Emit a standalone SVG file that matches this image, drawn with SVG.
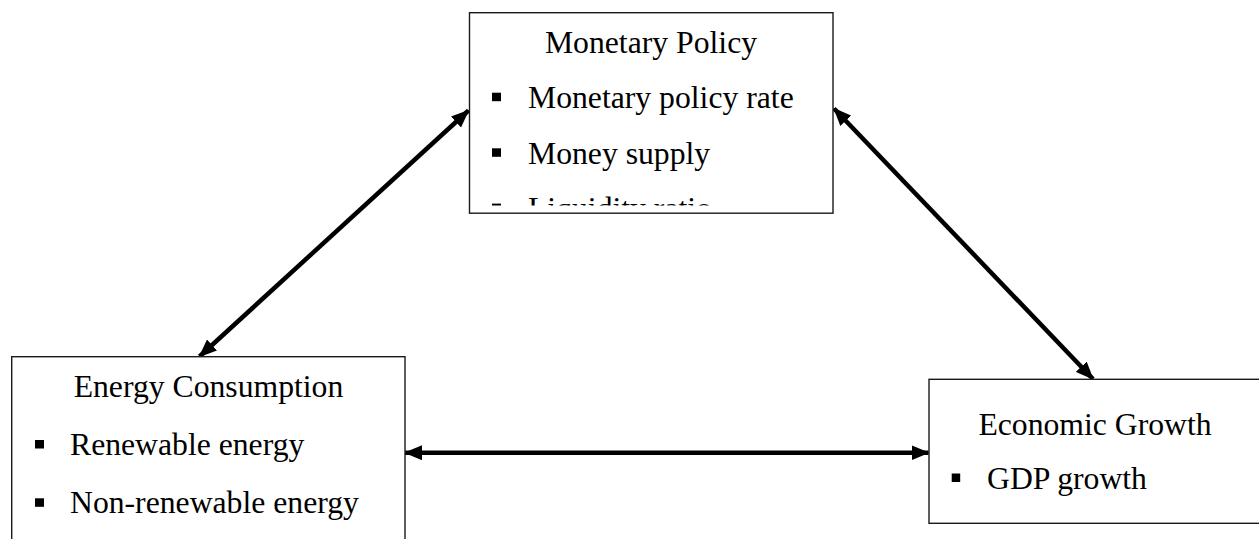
<svg xmlns="http://www.w3.org/2000/svg" width="1259" height="539" viewBox="0 0 1259 539">
  <style>
    .box { fill: #ffffff; stroke: #1a1a1a; stroke-width: 1.4; }
    .title, .item { font-family: "Liberation Serif", "Times New Roman", serif; font-size: 31.7px; fill: #000000; }
    .title { text-anchor: middle; }
    .bullet { fill: #000000; }
    .link { stroke: #000000; stroke-width: 4.5; fill: none; marker-start: url(#head); marker-end: url(#head); }
  </style>
  <defs>
    <marker id="head" viewBox="0 0 18 15" refX="17" refY="7.5" markerWidth="18" markerHeight="15" markerUnits="userSpaceOnUse" orient="auto-start-reverse">
      <path d="M0,0 L18,7.5 L0,15 z" fill="#000000"/>
    </marker>
    <clipPath id="policy-clip">
      <rect x="470" y="13" width="362" height="192.5"/>
    </clipPath>
  </defs>
  <rect width="1259" height="539" fill="#ffffff"/>

  <!-- bidirectional links between the three blocks -->
  <g id="connectors">
    <line class="link" x1="199.5" y1="356.5" x2="468.5" y2="110.5"/>
    <line class="link" x1="834" y1="108.5" x2="1093" y2="379"/>
    <line class="link" x1="405" y1="452.7" x2="928.5" y2="452.7"/>
  </g>

  <g id="monetary-policy">
    <rect class="box" x="469.5" y="12.7" width="363.5" height="200.5"/>
    <text class="title" x="651" y="53.3">Monetary Policy</text>
    <rect class="bullet" x="492" y="92.7" width="9" height="8.5"/>
    <text class="item" x="528" y="108.3">Monetary policy rate</text>
    <rect class="bullet" x="492" y="148.3" width="9" height="8.5"/>
    <text class="item" x="528" y="164">Money supply</text>
    <g clip-path="url(#policy-clip)">
      <rect class="bullet" x="492" y="203.6" width="9" height="8.5"/>
      <text class="item" x="528" y="219.3">Liquidity ratio</text>
    </g>
  </g>

  <g id="energy-consumption">
    <rect class="box" x="11.7" y="356.7" width="393.3" height="200"/>
    <text class="title" x="208.5" y="396.7">Energy Consumption</text>
    <rect class="bullet" x="35" y="440" width="9" height="8.5"/>
    <text class="item" x="70" y="455">Renewable energy</text>
    <rect class="bullet" x="35" y="498.3" width="9" height="8.5"/>
    <text class="item" x="70" y="513.3">Non-renewable energy</text>
  </g>

  <g id="economic-growth">
    <rect class="box" x="929" y="379.3" width="340" height="144"/>
    <text class="title" x="1095" y="435">Economic Growth</text>
    <rect class="bullet" x="951.7" y="473.5" width="8.5" height="8.5"/>
    <text class="item" x="987" y="489.3">GDP growth</text>
  </g>
</svg>
